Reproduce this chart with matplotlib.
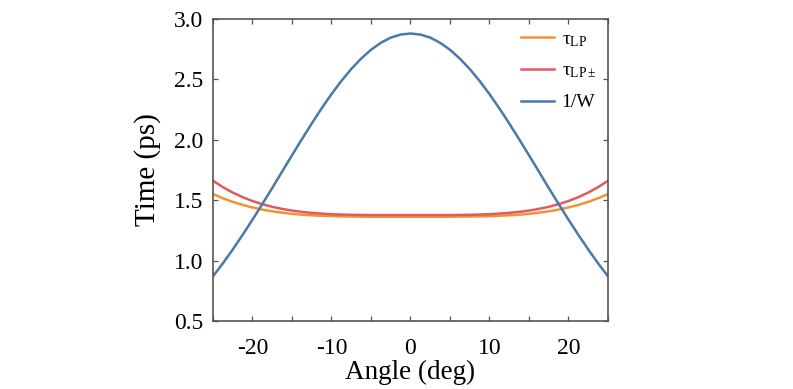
import numpy as np
import matplotlib
matplotlib.use("Agg")
import matplotlib.pyplot as plt
from matplotlib.ticker import MultipleLocator, FormatStrFormatter

plt.rcParams["font.family"] = ["Liberation Serif", "DejaVu Serif"]
plt.rcParams["mathtext.fontset"] = "custom"
plt.rcParams["mathtext.rm"] = "Liberation Serif"
plt.rcParams["mathtext.it"] = "Liberation Serif:italic"
plt.rcParams["axes.unicode_minus"] = False

# angle (deg), step 1.25
angle = np.arange(-25, 25.01, 1.25)

# 1/W (ps) (0 -> 25 deg, symmetric)
half_w = [2.880, 2.871, 2.846, 2.803, 2.745, 2.672, 2.586, 2.487, 2.378, 2.260,
          2.135, 2.005, 1.872, 1.737, 1.601, 1.469, 1.339, 1.213, 1.092, 0.977, 0.870]
# tau_LP (ps)
half_lp = [1.363, 1.363, 1.363, 1.363, 1.363, 1.364, 1.365, 1.366, 1.368, 1.371,
           1.375, 1.380, 1.387, 1.397, 1.408, 1.422, 1.440, 1.461, 1.486, 1.516, 1.551]
# tau_LP+- (ps)
half_lpm = [1.377, 1.377, 1.377, 1.377, 1.377, 1.378, 1.379, 1.381, 1.384, 1.389,
            1.395, 1.403, 1.414, 1.428, 1.445, 1.467, 1.493, 1.525, 1.563, 1.608, 1.661]

inv_w = half_w[:0:-1] + half_w
tau_lp = half_lp[:0:-1] + half_lp
tau_lpm = half_lpm[:0:-1] + half_lpm

fig = plt.figure(figsize=(7.93, 3.89), dpi=100)
ax = fig.add_axes([0.2686, 0.1748, 0.4981, 0.7764])

ax.plot(angle, tau_lp, color="#F39233", lw=1.8, label=r"τ$_{\mathrm{LP}}$")
ax.plot(angle, tau_lpm, color="#E05A60", lw=1.8, label=r"τ$_{\mathrm{LP\pm}}$")
ax.plot(angle, inv_w, color="#4A78A8", lw=1.8, label="1/W")

ax.set_xlim(-25, 25)
ax.set_ylim(0.5, 3.0)
ax.xaxis.set_major_locator(MultipleLocator(10))
ax.xaxis.set_minor_locator(MultipleLocator(5))
ax.yaxis.set_major_locator(MultipleLocator(0.5))
ax.yaxis.set_major_formatter(FormatStrFormatter("%.1f"))
ax.tick_params(which="both", direction="in", top=True, right=True,
               length=3.5, width=0.9, color="#555555", labelsize=17)
ax.tick_params(axis="x", pad=12)
ax.tick_params(axis="y", pad=7)
for s in ax.spines.values():
    s.set_color("#555555")
    s.set_linewidth(1.2)

ax.set_xlabel("Angle (deg)", fontsize=19.5, labelpad=1)
ax.set_ylabel("Time (ps)", fontsize=21, labelpad=9)

ax.legend(loc="upper right", frameon=False, fontsize=14, handlelength=1.7,
          borderaxespad=0.1, borderpad=0.5, labelspacing=0.68, handletextpad=0.4)

fig.savefig("out.png", dpi=100)
